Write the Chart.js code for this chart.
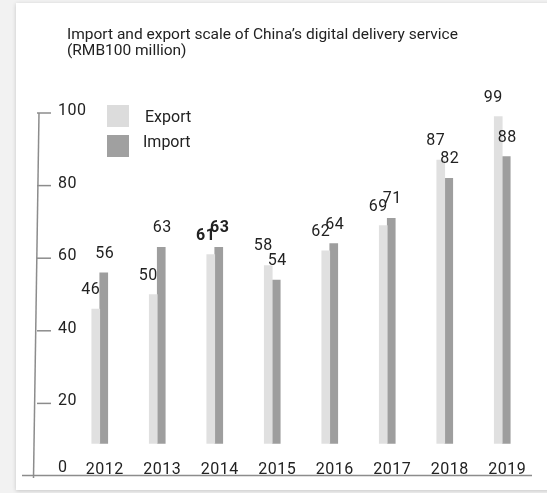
<!DOCTYPE html>
<html>
<head>
<meta charset="utf-8">
<script src="https://cdn.jsdelivr.net/npm/chart.js@4"></script>
<style>
  html, body { margin: 0; padding: 0; background: #f2f2f2; overflow: hidden; }
  #card { position: absolute; left: 16px; top: 3px; width: 560px; height: 487px; background: #fff;
          box-shadow: 0 1px 4px rgba(0,0,0,0.18); }
  #chart { position: absolute; left: 0; top: 0; }
</style>
</head>
<body>
<div id="card"></div>
<canvas id="chart" width="547" height="493"></canvas>
<script>
const years = ['2012', '2013', '2014', '2015', '2016', '2017', '2018', '2019'];
const exportValues = [46, 50, 61, 58, 62, 69, 87, 99];
const importValues = [56, 63, 63, 54, 64, 71, 82, 88];
const yTicks = [0, 20, 40, 60, 80, 100];
const titleLines = ['Import and export scale of China\u2019s digital delivery service', '(RMB100 million)'];

const textColor = '#222';
const axisColor = '#8c8c8c';
const FONT = 'Roboto, "Noto Sans", sans-serif';

// axes, legend, title and value labels are drawn by hand on top of the chart
const decor = {
  id: 'decor',
  afterDraw(chart) {
    const ctx = chart.ctx;
    const x = chart.scales.x;
    const y = chart.scales.y;
    ctx.save();

    // title
    ctx.fillStyle = textColor;
    ctx.font = '15.5px ' + FONT;
    ctx.textAlign = 'left';
    ctx.textBaseline = 'alphabetic';
    ctx.fillText(titleLines[0], 67, 39);
    ctx.fillText(titleLines[1], 67, 55);

    // y axis line (slightly leaning like the original)
    ctx.strokeStyle = axisColor;
    ctx.lineWidth = 1.5;
    ctx.beginPath();
    ctx.moveTo(39, y.getPixelForValue(100));
    ctx.lineTo(33.5, 478);
    ctx.stroke();

    // x axis line
    ctx.beginPath();
    ctx.moveTo(22, 475.5);
    ctx.lineTo(532, 475.5);
    ctx.stroke();

    // y ticks + labels
    ctx.font = '16px ' + FONT;
    ctx.letterSpacing = '0.5px';
    yTicks.forEach(v => {
      const py = y.getPixelForValue(v);
      if (v > 0) {
        ctx.beginPath();
        ctx.moveTo(37, py);
        ctx.lineTo(51, py);
        ctx.stroke();
      }
      ctx.fillText(String(v), 58, Math.min(py + 2, 472));
    });

    // x labels
    ctx.textAlign = 'center';
    years.forEach((yr, i) => {
      ctx.fillText(yr, x.getPixelForValue(i) + 5, 474);
    });

    // value labels
    chart.data.datasets.forEach((ds, di) => {
      const meta = chart.getDatasetMeta(di);
      meta.data.forEach((bar, i) => {
        const bold = years[i] === '2014';
        ctx.font = (bold ? 'bold ' : '') + '16px ' + FONT;
        ctx.textBaseline = 'middle';
        const dx = di === 0 ? -5 : 1;
        const dy = di === 0 ? -19 : -19;
        ctx.fillText(String(ds.data[i]), bar.x + dx, bar.y + dy);
      });
    });

    // legend
    ctx.letterSpacing = '0px';
    ctx.font = '16px ' + FONT;
    ctx.textAlign = 'left';
    ctx.textBaseline = 'alphabetic';
    chart.data.datasets.forEach((ds, di) => {
      const top = 105 + di * 30;
      ctx.fillStyle = ds.legendColor;
      ctx.fillRect(107, top, 22, 22);
      ctx.fillStyle = textColor;
      ctx.fillText(ds.label, di === 0 ? 145 : 143, di === 0 ? 122 : 147);
    });

    ctx.restore();
  }
};

new Chart(document.getElementById('chart'), {
  type: 'bar',
  data: {
    labels: years,
    datasets: [
      { label: 'Export', data: exportValues, backgroundColor: '#e0e0e0', legendColor: '#dcdcdc',
        barThickness: 8, base: 9 },
      { label: 'Import', data: importValues, backgroundColor: '#9e9e9e', legendColor: '#a0a0a0',
        barThickness: 8, base: 9 }
    ]
  },
  options: {
    responsive: false,
    animation: false,
    layout: { padding: { left: 71, right: 16, top: 113, bottom: 17 } },
    scales: {
      x: { display: false },
      y: { display: false, min: 0, max: 100 }
    },
    plugins: {
      legend: { display: false },
      tooltip: { enabled: false }
    }
  },
  plugins: [decor]
});
</script>
</body>
</html>
